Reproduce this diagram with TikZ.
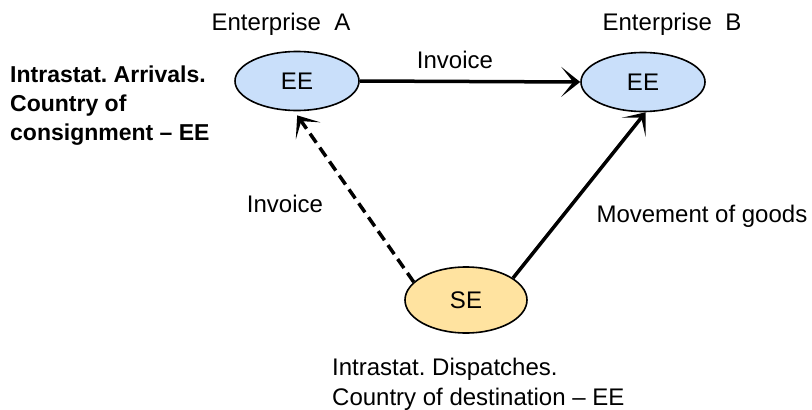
\documentclass[tikz,border=0pt]{standalone}
\usepackage{fontspec}
\setmainfont{Liberation Sans}
\usetikzlibrary{arrows.meta,shapes.geometric}
\frenchspacing

\definecolor{eeblue}{RGB}{201,223,250}
\definecolor{seyellow}{RGB}{255,227,160}

\tikzset{
    firm/.style={ellipse,draw,line width=1.6pt,minimum width=124pt,minimum height=59pt,inner sep=0pt},
    flow/.style={line width=3.5pt,-{Stealth[length=19pt,width=30pt,inset=12pt]}},
}

\begin{document}
\begin{tikzpicture}[x=1pt,y=-1pt,font=\fontsize{24}{30}\selectfont]
    \useasboundingbox (0,0) rectangle (812,410);

    \node[firm,fill=eeblue]   (A)  at (297,81)  {EE};
    \node[firm,fill=eeblue]   (B)  at (643,82)  {EE};
    \node[firm,fill=seyellow,minimum width=122pt,minimum height=66pt] (SE) at (466,300) {SE};

    \node[anchor=base] (nameA) at (281,30) {Enterprise~ A};
    \node[anchor=base] (nameB) at (672,30) {Enterprise~ B};

    \draw[flow] (A.east) -- (B.west);
    \draw[flow,dash pattern=on 11pt off 6pt,shorten >=5pt] (SE.161) -- (A.265);
    \draw[flow] (SE.25) -- (B.275);

    \node[anchor=base] (inv1) at (455,68) {Invoice};
    \node[anchor=base] (inv2) at (285,212) {Invoice};
    \node[anchor=base west] (goods) at (593,222) {Movement of goods};

    \node[anchor=base west,align=left,inner sep=0pt,font=\fontsize{23}{29}\selectfont\bfseries] (arr) at (10,140)
        {Intrastat. Arrivals.\\Country of\\consignment -- EE};
    \node[anchor=base west,align=left,inner sep=0pt] (disp) at (332,405)
        {Intrastat. Dispatches.\\Country of destination -- EE};

\end{tikzpicture}
\end{document}
